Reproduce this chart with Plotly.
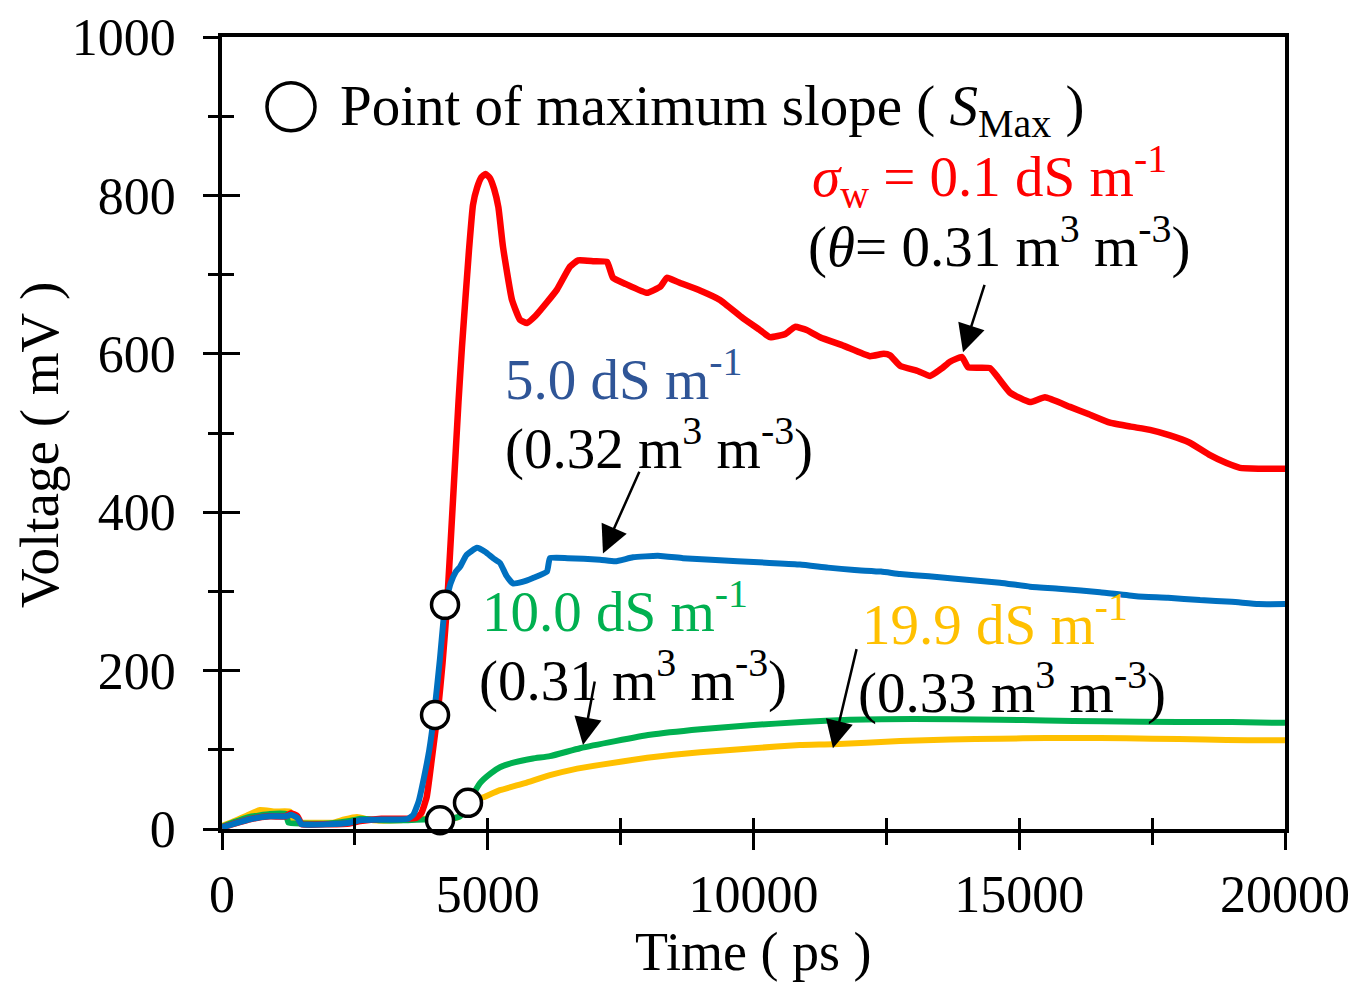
import plotly.graph_objects as go

# ---- data (time in ps, voltage in mV) ----
red_pts = [(0,2),(200,6),(500,12),(900,16),(1200,16),(1300,20),(1420,16),(1500,6),(2000,6),(2400,7),
           (2600,10),(3000,13),(3400,13),(3650,14),(3750,20),(3850,40),(3950,90),(4064,150),(4150,210),
           (4233,282),(4346,415),(4450,540),(4515,609),(4647,731),(4722,788),(4800,810),(4880,823),
           (4960,827),(5040,822),(5120,808),(5200,785),(5287,735),(5456,668),(5606,643),(5738,639),
           (5900,648),(6114,665),(6302,681),(6547,710),(6700,718),(7000,717),(7244,716),(7356,696),
           (7600,688),(7996,677),(8250,685),(8372,696),(8600,690),(8993,680),(9370,668),(9800,645),
           (10122,630),(10310,621),(10600,625),(10781,634),(11000,630),(11251,621),(11700,610),
           (12192,597),(12450,600),(12568,598),(12756,585),(13100,578),(13321,572),(13550,582),
           (13697,590),(13923,596),(14036,583),(14450,582),(14600,570),(14826,551),(15202,539),
           (15484,545),(15955,533),(16300,524),(16707,513),(17100,508),(17460,504),(17836,497),
           (18200,488),(18589,472),(18900,462),(19153,456),(19500,455),(20000,455)]

blue_pts = [(0,2),(200,6),(500,12),(900,16),(1200,16),(1300,18),(1420,14),(1500,6),(2000,6),(2400,8),
            (2600,11),(3000,12),(3300,12),(3500,13),(3600,18),(3700,35),(3800,65),(3900,100),(3989,144),
            (4100,215),(4196,282),(4300,310),(4400,325),(4478,331),(4600,346),(4797,355),(4950,350),
            (5100,342),(5230,336),(5350,320),(5475,310),(5650,312),(5851,317),(6114,325),(6170,342),
            (6500,342),(7112,340),(7400,338),(7733,343),(8200,345),(8673,342),(9200,340),(9700,338),
            (10300,336),(10874,334),(11400,330),(11900,327),(12400,325),(12756,322),(13300,319),
            (13800,316),(14637,311),(15200,306),(15800,303),(16519,299),(17200,294),(17800,292),
            (18401,289),(19000,287),(19500,284),(20000,284)]

green_pts = [(0,3),(200,8),(500,15),(900,19),(1200,19),(1250,8),(1500,7),(2000,7),(2400,10),(2600,13),
             (3000,11),(3400,11),(3800,12),(4120,11),(4300,13),(4477,16),(4600,25),(4700,40),(4854,58),
             (5050,70),(5230,78),(5500,84),(5851,89),(6170,92),(6735,102),(7400,111),(8052,119),
             (9000,126),(9934,131),(10900,135),(11816,138),(13000,139),(14637,138),(15500,137),
             (16519,136),(18000,135),(19000,135),(20000,134)]

yellow_pts = [(0,4),(200,9),(500,18),(715,24),(1000,22),(1279,22),(1336,8),(1600,8),(2088,8),(2300,12),
              (2540,15),(2841,11),(3349,11),(3725,13),(4200,13),(4450,15),(4628,33),(4910,40),(5230,49),
              (5700,58),(6170,68),(6600,75),(7112,81),(8000,90),(8993,97),(10000,102),(10874,106),
              (11495,107),(12756,111),(13700,113),(14637,114),(15500,115),(16519,115),(17500,114),
              (18500,113),(19300,112),(20000,112)]

smax_t = [4196, 4008, 4102, 4628]
smax_v = [283, 144, 11, 33]

x_ticks = [0, 5000, 10000, 15000, 20000]
y_ticks = [0, 200, 400, 600, 800, 1000]

FONT = "Liberation Serif"
RED, BLUE, GREEN, YELLOW = "#FF0000", "#0070C0", "#00B050", "#FFC000"
BLUE_TXT = "#2F5597"

fig = go.Figure()
for pts, col, w in [(yellow_pts, YELLOW, 6), (green_pts, GREEN, 6), (red_pts, RED, 6.5), (blue_pts, BLUE, 6)]:
    fig.add_trace(go.Scatter(x=[p[0] for p in pts], y=[p[1] for p in pts], mode="lines",
                             line=dict(color=col, width=w, shape="spline", smoothing=0.4),
                             showlegend=False))
fig.add_trace(go.Scatter(x=smax_t, y=smax_v, mode="markers",
                         marker=dict(symbol="circle", size=27, color="white",
                                     line=dict(color="black", width=3.5)),
                         showlegend=False, cliponaxis=False))
# dummy trace for overlay axes (inside ticks)
fig.add_trace(go.Scatter(x=[None], y=[None], xaxis="x2", yaxis="y2", showlegend=False))

common = dict(showgrid=False, zeroline=False, tickwidth=3, tickcolor="black", automargin=False)
fig.update_layout(
    width=1362, height=983,
    margin=dict(l=222, r=77, t=37, b=154),
    plot_bgcolor="white", paper_bgcolor="white",
    font=dict(family=FONT, size=52, color="black"),
    xaxis=dict(range=[0, 20000], tickvals=x_ticks, ticktext=[str(v) for v in x_ticks],
               ticks="outside", ticklen=17, showline=True, linewidth=3.5, linecolor="black",
               mirror=True, ticklabelstandoff=0,
               minor=dict(ticks="outside", dtick=2500, ticklen=12, tickwidth=3, tickcolor="black"),
               **common),
    yaxis=dict(range=[0, 1000], tickvals=y_ticks, ticktext=[str(v) for v in y_ticks],
               ticks="outside", ticklen=15, showline=True, linewidth=3.5, linecolor="black",
               mirror=True, ticklabelstandoff=17,
               minor=dict(ticks="outside", dtick=100, ticklen=10, tickwidth=3, tickcolor="black"),
               **common),
    xaxis2=dict(range=[0, 20000], overlaying="x", anchor="y2", side="bottom", tickvals=x_ticks,
                ticks="inside", ticklen=11, showticklabels=False, showline=False,
                minor=dict(ticks="inside", dtick=2500, ticklen=11, tickwidth=3, tickcolor="black"),
                **common),
    yaxis2=dict(range=[0, 1000], overlaying="y", anchor="x2", side="left", tickvals=y_ticks,
                ticks="inside", ticklen=18, showticklabels=False, showline=False,
                minor=dict(ticks="inside", dtick=100, ticklen=12, tickwidth=3, tickcolor="black"),
                **common),
)

# axis titles
fig.add_annotation(text="Time ( ps )", xref="paper", yref="paper", x=0.5, y=-0.155,
                   xanchor="center", yanchor="middle", showarrow=False,
                   font=dict(family=FONT, size=54, color="black"))
fig.add_annotation(text="Voltage ( mV )", xref="paper", yref="paper", x=-0.171, y=0.485,
                   xanchor="center", yanchor="middle", textangle=-90, showarrow=False,
                   font=dict(family=FONT, size=55, color="black"))

# legend-like key for the S_Max circles
fig.add_shape(type="circle", xref="x", yref="y", xsizemode="pixel", ysizemode="pixel",
              xanchor=1298, yanchor=912, x0=-24, x1=24, y0=-24, y1=24,
              line=dict(color="black", width=3.5), fillcolor="white")

texts = [
    ("Point of maximum slope ( <i>S</i><sub>Max</sub> )", 2183, 908, "black"),
    ("<i>σ</i><sub>w</sub> = 0.1 dS m<sup>-1</sup>", 11063, 824, RED),
    ("(<i>θ</i>= 0.31 m<sup>3</sup> m<sup>-3</sup>)", 10988, 741, "black"),
    ("5.0 dS m<sup>-1</sup>", 5287, 573, BLUE_TXT),
    ("(0.32 m<sup>3</sup> m<sup>-3</sup>)", 5287, 485, "black"),
    ("10.0 dS m<sup>-1</sup>", 4854, 280, GREEN),
    ("(0.31 m<sup>3</sup> m<sup>-3</sup>)", 4798, 192, "black"),
    ("19.9 dS m<sup>-1</sup>", 12004, 264, YELLOW),
    ("(0.33 m<sup>3</sup> m<sup>-3</sup>)", 11929, 177, "black"),
]
for txt, x, y, col in texts:
    fig.add_annotation(text=txt, x=x, y=y, xref="x", yref="y", xanchor="left", yanchor="middle",
                       showarrow=False, font=dict(family=FONT, size=57, color=col))

arrows = [  # (tip_t, tip_v, tail_t, tail_v)
    (13942, 602, 14356, 689),
    (7168, 348, 7865, 453),
    (6792, 106, 7018, 188),
    (11495, 102, 11946, 229),
]
for tx, ty, ax, ay in arrows:
    fig.add_annotation(x=tx, y=ty, ax=ax, ay=ay, xref="x", yref="y", axref="x", ayref="y",
                       text="", showarrow=True, arrowhead=2, arrowsize=2.2, arrowwidth=2.5,
                       arrowcolor="black")

fig.write_html("out.html")
